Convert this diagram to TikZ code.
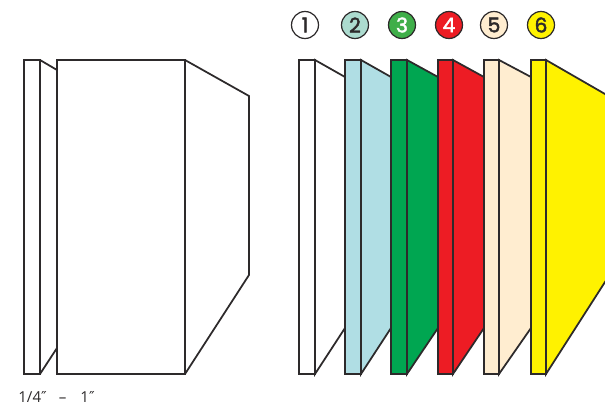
\documentclass[tikz,border=0pt]{standalone}
\usepackage{fontspec}
\setmainfont{Open Sans}
\newfontfamily\numfont[FakeBold=2.2]{Poppins}
\newfontfamily\primefont{DejaVu Sans}
\usepackage{xcolor}
\definecolor{plateline}{RGB}{45,42,43}
\definecolor{plateblue}{RGB}{176,222,228}
\definecolor{plategreen}{RGB}{0,166,81}
\definecolor{platered}{RGB}{237,28,36}
\definecolor{platecream}{RGB}{255,237,208}
\definecolor{plateyellow}{RGB}{255,242,0}
\definecolor{badgeteal}{RGB}{172,219,207}
\definecolor{badgegreen}{RGB}{63,174,73}
\tikzset{
    plate/.style={draw=plateline, line width=1pt, line join=miter},
    badge/.style={circle, draw=plateline, line width=0.7pt, minimum size=0.54cm, inner sep=0pt, font=\numfont\fontsize{11.5}{11.5}\selectfont, text=plateline},
    badgeW/.style={badge, text=white},
}
\begin{document}
\begin{tikzpicture}[x=0.02cm, y=-0.02cm]
    \clip (0,0) rectangle (605,409);

    % Plain stack
    \draw[plate] (24,60) rectangle (40,374);
    \draw[plate] (40,60) -- (57,70);
    \draw[plate] (40,374) -- (57,348);
    \draw[plate] (57,60) rectangle (185,374);
    \draw[plate] (185,60) -- (249,96) -- (249,275) -- (185,374);

    \node[anchor=west, inner sep=0pt, font=\fontsize{8.6}{8.6}\selectfont, text=plateline] (size) at (18,397) {1/4{\primefont″}\hspace{0.24cm}–\hspace{0.28cm}1{\primefont″}};

    % Numbered badges
    \node[badge] (b1) at (305,25) {1};
    \node[badge, fill=badgeteal] (b2) at (355,25) {2};
    \node[badgeW, fill=badgegreen] (b3) at (402,25) {3};
    \node[badgeW, fill=platered] (b4) at (449,25) {4};
    \node[badge, fill=platecream] (b5) at (494,25) {5};
    \node[badge, fill=plateyellow] (b6) at (541,25) {6};

    % Coloured stack
    \draw[plate, fill=white] (315,60) -- (345,77) -- (345,328) -- (315,374) -- cycle;
    \draw[plate, fill=white] (299,60) rectangle (315,374);

    \draw[plate, fill=plateblue] (361,60) -- (391,77) -- (391,328) -- (361,374) -- cycle;
    \draw[plate, fill=plateblue] (345,60) rectangle (361,374);

    \draw[plate, fill=plategreen] (407,60) -- (438,77) -- (438,328) -- (407,374) -- cycle;
    \draw[plate, fill=plategreen] (391,60) rectangle (407,374);

    \draw[plate, fill=platered] (453,60) -- (484,77) -- (484,328) -- (453,374) -- cycle;
    \draw[plate, fill=platered] (438,60) rectangle (453,374);

    \draw[plate, fill=platecream] (499,60) -- (531,77) -- (531,328) -- (499,374) -- cycle;
    \draw[plate, fill=platecream] (484,60) rectangle (499,374);

    \draw[plate, fill=plateyellow] (546,60) -- (605,94) -- (625,105.5) -- (625,251) -- (605,282) -- (546,374) -- cycle;
    \draw[plate, fill=plateyellow] (531,60) rectangle (546,374);
\end{tikzpicture}
\end{document}
